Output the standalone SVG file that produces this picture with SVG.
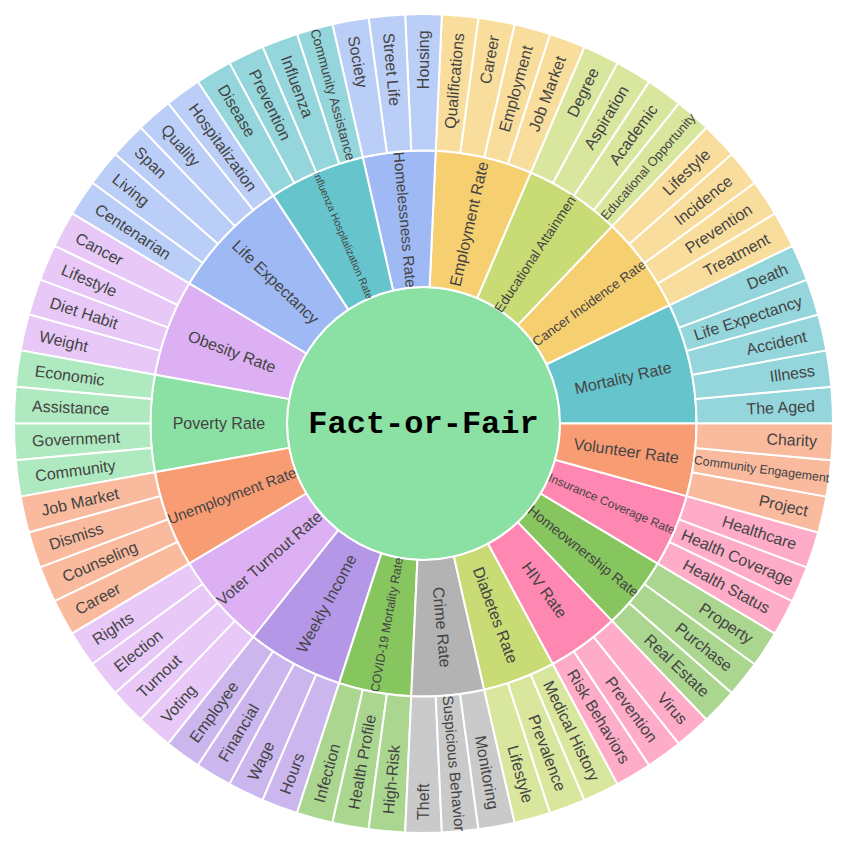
<svg xmlns="http://www.w3.org/2000/svg" width="847" height="847" viewBox="0 0 847 847">
<style>
.w{stroke:#fff;stroke-width:2;stroke-linejoin:round}
.t{font-family:"Liberation Sans",Arial,sans-serif;font-size:16px;fill:#444;text-anchor:middle;dominant-baseline:central}
.root{font-family:"Liberation Mono","Courier New",monospace;font-weight:bold;font-size:32px;fill:#000;text-anchor:middle}
.pA{fill:#66C5CC}.lA{fill:#94D6DB}
.pB{fill:#F6CF71}.lB{fill:#F9DD9C}
.pC{fill:#F89C74}.lC{fill:#FABA9E}
.pD{fill:#DCB0F2}.lD{fill:#E7C8F6}
.pE{fill:#87C55F}.lE{fill:#ABD68F}
.pF{fill:#9EB9F3}.lF{fill:#BBCEF7}
.pG{fill:#FE88B1}.lG{fill:#FEACC8}
.pH{fill:#C9DB74}.lH{fill:#D9E69E}
.pI{fill:#8BE0A4}.lI{fill:#AEE9BF}
.pJ{fill:#B497E7}.lJ{fill:#CBB6EE}
.pK{fill:#B3B3B3}.lK{fill:#CACACA}
</style>
<defs>
<path id="leaf" class="w" d="M273,0 L409.5,0 A409.5,409.5 0 0 0 407.851,-36.707 L271.901,-24.472 A273,273 0 0 1 273,0 Z"/>
<path id="p3" class="w" d="M136.5,0 L273,0 A273,273 0 0 0 263.162,-72.628 L131.581,-36.314 A136.5,136.5 0 0 1 136.5,0 Z"/>
<path id="p4" class="w" d="M136.5,0 L273,0 A273,273 0 0 0 255.592,-95.925 L127.796,-47.963 A136.5,136.5 0 0 1 136.5,0 Z"/>
<path id="p5" class="w" d="M136.5,0 L273,0 A273,273 0 0 0 245.965,-118.450 L122.982,-59.225 A136.5,136.5 0 0 1 136.5,0 Z"/>
</defs>
<rect width="847" height="847" fill="#fff"/>
<g transform="translate(423.5 423.5)">
<g id="root"><circle r="136.5" class="pI w"/><text class="root" y="9">Fact-or-Fair</text></g>

<g id="mortality-rate"><use href="#p5" class="pA"/><text class="t" transform="rotate(-12.857) translate(204.6 0)">Mortality Rate</text></g>
<g id="cancer-incidence-rate"><use href="#p4" class="pB" transform="rotate(-25.714)"/><text class="t" style="font-size:13.41px" transform="rotate(-36) translate(204.7 0)">Cancer Incidence Rate</text></g>
<g id="educational-attainment"><use href="#p4" class="pH" transform="rotate(-46.286)"/><text class="t" style="font-size:13.66px" transform="rotate(-56.571) translate(204.7 0)">Educational Attainment</text></g>
<g id="employment-rate"><use href="#p4" class="pB" transform="rotate(-66.857)"/><text class="t" transform="rotate(-77.143) translate(204.7 0)">Employment Rate</text></g>
<g id="homelessness-rate"><use href="#p3" class="pF" transform="rotate(-87.429)"/><text class="t" style="font-size:15.24px" transform="rotate(-95.143) translate(204.7 0) rotate(180)">Homelessness Rate</text></g>
<g id="influenza-hospitalization-rate"><use href="#p4" class="pA" transform="rotate(-102.857)"/><text class="t" style="font-size:10.39px" transform="rotate(-113.143) translate(204.7 0) rotate(180)">Influenza Hospitalization Rate</text></g>
<g id="life-expectancy"><use href="#p5" class="pF" transform="rotate(-123.429)"/><text class="t" transform="rotate(-136.286) translate(204.6 0) rotate(180)">Life Expectancy</text></g>
<g id="obesity-rate"><use href="#p4" class="pD" transform="rotate(-149.143)"/><text class="t" transform="rotate(-159.429) translate(204.6 0) rotate(180)">Obesity Rate</text></g>
<g id="poverty-rate"><use href="#p4" class="pI" transform="rotate(-169.714)"/><text class="t" transform="rotate(-180) translate(204.6 0) rotate(180)">Poverty Rate</text></g>
<g id="unemployment-rate"><use href="#p4" class="pC" transform="rotate(-190.286)"/><text class="t" style="font-size:14.96px" transform="rotate(-200.571) translate(204.7 0) rotate(180)">Unemployment Rate</text></g>
<g id="voter-turnout-rate"><use href="#p4" class="pD" transform="rotate(-210.857)"/><text class="t" transform="rotate(-221.143) translate(204.7 0) rotate(180)">Voter Turnout Rate</text></g>
<g id="weekly-income"><use href="#p4" class="pJ" transform="rotate(-231.429)"/><text class="t" transform="rotate(-241.714) translate(204.6 0) rotate(180)">Weekly Income</text></g>
<g id="covid-19-mortality-rate"><use href="#p3" class="pE" transform="rotate(-252)"/><text class="t" style="font-size:12.34px" transform="rotate(-259.714) translate(204.7 0) rotate(180)">COVID-19 Mortality Rate</text></g>
<g id="crime-rate"><use href="#p3" class="pK" transform="rotate(-267.429)"/><text class="t" transform="rotate(-275.143) translate(204.5 0)">Crime Rate</text></g>
<g id="diabetes-rate"><use href="#p3" class="pH" transform="rotate(-282.857)"/><text class="t" transform="rotate(-290.571) translate(204.6 0)">Diabetes Rate</text></g>
<g id="hiv-rate"><use href="#p3" class="pG" transform="rotate(-298.286)"/><text class="t" transform="rotate(-306) translate(205.8 0)">HIV Rate</text></g>
<g id="homeownership-rate"><use href="#p3" class="pE" transform="rotate(-313.714)"/><text class="t" style="font-size:14.27px" transform="rotate(-321.429) translate(204.7 0)">Homeownership Rate</text></g>
<g id="insurance-coverage-rate"><use href="#p3" class="pG" transform="rotate(-329.143)"/><text class="t" style="font-size:11.97px" transform="rotate(-336.857) translate(204.7 0)">Insurance Coverage Rate</text></g>
<g id="volunteer-rate"><use href="#p3" class="pC" transform="rotate(-344.571)"/><text class="t" transform="rotate(-352.286) translate(204.6 0)">Volunteer Rate</text></g>

<g id="mortality-the-aged"><use href="#leaf" class="lA"/><text class="t" transform="rotate(-2.571) translate(357.5 0)">The Aged</text></g>
<g id="mortality-illness"><use href="#leaf" class="lA" transform="rotate(-5.143)"/><text class="t" transform="rotate(-7.714) translate(372.1 0)">Illness</text></g>
<g id="mortality-accident"><use href="#leaf" class="lA" transform="rotate(-10.286)"/><text class="t" transform="rotate(-12.857) translate(362.1 0)">Accident</text></g>
<g id="mortality-life-expectancy"><use href="#leaf" class="lA" transform="rotate(-15.429)"/><text class="t" transform="rotate(-18) translate(341.2 0)">Life Expectancy</text></g>
<g id="mortality-death"><use href="#leaf" class="lA" transform="rotate(-20.571)"/><text class="t" transform="rotate(-23.143) translate(373.9 0)">Death</text></g>
<g id="cancer-treatment"><use href="#leaf" class="lB" transform="rotate(-25.714)"/><text class="t" transform="rotate(-28.286) translate(355.5 0)">Treatment</text></g>
<g id="cancer-prevention"><use href="#leaf" class="lB" transform="rotate(-30.857)"/><text class="t" transform="rotate(-33.429) translate(353.6 0)">Prevention</text></g>
<g id="cancer-incidence"><use href="#leaf" class="lB" transform="rotate(-36)"/><text class="t" transform="rotate(-38.571) translate(358 0)">Incidence</text></g>
<g id="cancer-lifestyle"><use href="#leaf" class="lB" transform="rotate(-41.143)"/><text class="t" transform="rotate(-43.714) translate(363.7 0)">Lifestyle</text></g>
<g id="education-educational-opportunity"><use href="#leaf" class="lH" transform="rotate(-46.286)"/><text class="t" style="font-size:12.78px" transform="rotate(-48.857) translate(341.2 0)">Educational Opportunity</text></g>
<g id="education-academic"><use href="#leaf" class="lH" transform="rotate(-51.429)"/><text class="t" transform="rotate(-54) translate(357 0)">Academic</text></g>
<g id="education-aspiration"><use href="#leaf" class="lH" transform="rotate(-56.571)"/><text class="t" transform="rotate(-59.143) translate(356.5 0)">Aspiration</text></g>
<g id="education-degree"><use href="#leaf" class="lH" transform="rotate(-61.714)"/><text class="t" transform="rotate(-64.286) translate(367.5 0)">Degree</text></g>
<g id="employment-job-market"><use href="#leaf" class="lB" transform="rotate(-66.857)"/><text class="t" transform="rotate(-69.429) translate(352.2 0)">Job Market</text></g>
<g id="employment-employment"><use href="#leaf" class="lB" transform="rotate(-72)"/><text class="t" transform="rotate(-74.571) translate(347.3 0)">Employment</text></g>
<g id="employment-career"><use href="#leaf" class="lB" transform="rotate(-77.143)"/><text class="t" transform="rotate(-79.714) translate(369.8 0)">Career</text></g>
<g id="employment-qualifications"><use href="#leaf" class="lB" transform="rotate(-82.286)"/><text class="t" transform="rotate(-84.857) translate(344 0)">Qualifications</text></g>
<g id="homelessness-housing"><use href="#leaf" class="lF" transform="rotate(-87.429)"/><text class="t" transform="rotate(-90) translate(363.7 0)">Housing</text></g>
<g id="homelessness-street-life"><use href="#leaf" class="lF" transform="rotate(-92.571)"/><text class="t" transform="rotate(-95.143) translate(355.5 0) rotate(180)">Street Life</text></g>
<g id="homelessness-society"><use href="#leaf" class="lF" transform="rotate(-97.714)"/><text class="t" transform="rotate(-100.286) translate(367.5 0) rotate(180)">Society</text></g>
<g id="influenza-community-assistance"><use href="#leaf" class="lA" transform="rotate(-102.857)"/><text class="t" style="font-size:13.42px" transform="rotate(-105.429) translate(341.2 0) rotate(180)">Community Assistance</text></g>
<g id="influenza-influenza"><use href="#leaf" class="lA" transform="rotate(-108)"/><text class="t" transform="rotate(-110.571) translate(360 0) rotate(180)">Influenza</text></g>
<g id="influenza-prevention"><use href="#leaf" class="lA" transform="rotate(-113.143)"/><text class="t" transform="rotate(-115.714) translate(353.6 0) rotate(180)">Prevention</text></g>
<g id="influenza-disease"><use href="#leaf" class="lA" transform="rotate(-118.286)"/><text class="t" transform="rotate(-120.857) translate(364.2 0) rotate(180)">Disease</text></g>
<g id="life-hospitalization"><use href="#leaf" class="lF" transform="rotate(-123.429)"/><text class="t" transform="rotate(-126) translate(341.2 0) rotate(180)">Hospitalization</text></g>
<g id="life-quality"><use href="#leaf" class="lF" transform="rotate(-128.571)"/><text class="t" transform="rotate(-131.143) translate(369.2 0) rotate(180)">Quality</text></g>
<g id="life-span"><use href="#leaf" class="lF" transform="rotate(-133.714)"/><text class="t" transform="rotate(-136.286) translate(377.6 0) rotate(180)">Span</text></g>
<g id="life-living"><use href="#leaf" class="lF" transform="rotate(-138.857)"/><text class="t" transform="rotate(-141.429) translate(374.5 0) rotate(180)">Living</text></g>
<g id="life-centenarian"><use href="#leaf" class="lF" transform="rotate(-144)"/><text class="t" transform="rotate(-146.571) translate(348.2 0) rotate(180)">Centenarian</text></g>
<g id="obesity-cancer"><use href="#leaf" class="lD" transform="rotate(-149.143)"/><text class="t" transform="rotate(-151.714) translate(368.1 0) rotate(180)">Cancer</text></g>
<g id="obesity-lifestyle"><use href="#leaf" class="lD" transform="rotate(-154.286)"/><text class="t" transform="rotate(-156.857) translate(363.7 0) rotate(180)">Lifestyle</text></g>
<g id="obesity-diet-habit"><use href="#leaf" class="lD" transform="rotate(-159.429)"/><text class="t" transform="rotate(-162) translate(357 0) rotate(180)">Diet Habit</text></g>
<g id="obesity-weight"><use href="#leaf" class="lD" transform="rotate(-164.571)"/><text class="t" transform="rotate(-167.143) translate(369.2 0) rotate(180)">Weight</text></g>
<g id="poverty-economic"><use href="#leaf" class="lI" transform="rotate(-169.714)"/><text class="t" transform="rotate(-172.286) translate(357 0) rotate(180)">Economic</text></g>
<g id="poverty-assistance"><use href="#leaf" class="lI" transform="rotate(-174.857)"/><text class="t" transform="rotate(-177.429) translate(353.2 0) rotate(180)">Assistance</text></g>
<g id="poverty-government"><use href="#leaf" class="lI" transform="rotate(-180)"/><text class="t" transform="rotate(-182.571) translate(347.8 0) rotate(180)">Government</text></g>
<g id="poverty-community"><use href="#leaf" class="lI" transform="rotate(-185.143)"/><text class="t" transform="rotate(-187.714) translate(351.3 0) rotate(180)">Community</text></g>
<g id="unemployment-job-market"><use href="#leaf" class="lC" transform="rotate(-190.286)"/><text class="t" transform="rotate(-192.857) translate(352.2 0) rotate(180)">Job Market</text></g>
<g id="unemployment-dismiss"><use href="#leaf" class="lC" transform="rotate(-195.429)"/><text class="t" transform="rotate(-198) translate(365.3 0) rotate(180)">Dismiss</text></g>
<g id="unemployment-counseling"><use href="#leaf" class="lC" transform="rotate(-200.571)"/><text class="t" transform="rotate(-203.143) translate(351.8 0) rotate(180)">Counseling</text></g>
<g id="unemployment-career"><use href="#leaf" class="lC" transform="rotate(-205.714)"/><text class="t" transform="rotate(-208.286) translate(369.8 0) rotate(180)">Career</text></g>
<g id="voter-rights"><use href="#leaf" class="lD" transform="rotate(-210.857)"/><text class="t" transform="rotate(-213.429) translate(372.1 0) rotate(180)">Rights</text></g>
<g id="voter-election"><use href="#leaf" class="lD" transform="rotate(-216)"/><text class="t" transform="rotate(-218.571) translate(364.7 0) rotate(180)">Election</text></g>
<g id="voter-turnout"><use href="#leaf" class="lD" transform="rotate(-221.143)"/><text class="t" transform="rotate(-223.714) translate(365.8 0) rotate(180)">Turnout</text></g>
<g id="voter-voting"><use href="#leaf" class="lD" transform="rotate(-226.286)"/><text class="t" transform="rotate(-228.857) translate(372.1 0) rotate(180)">Voting</text></g>
<g id="weekly-employee"><use href="#leaf" class="lJ" transform="rotate(-231.429)"/><text class="t" transform="rotate(-234) translate(356.5 0) rotate(180)">Employee</text></g>
<g id="weekly-financial"><use href="#leaf" class="lJ" transform="rotate(-236.571)"/><text class="t" transform="rotate(-239.143) translate(360.5 0) rotate(180)">Financial</text></g>
<g id="weekly-wage"><use href="#leaf" class="lJ" transform="rotate(-241.714)"/><text class="t" transform="rotate(-244.286) translate(374.5 0) rotate(180)">Wage</text></g>
<g id="weekly-hours"><use href="#leaf" class="lJ" transform="rotate(-246.857)"/><text class="t" transform="rotate(-249.429) translate(373.9 0) rotate(180)">Hours</text></g>
<g id="covid-infection"><use href="#leaf" class="lE" transform="rotate(-252)"/><text class="t" transform="rotate(-254.571) translate(362.6 0) rotate(180)">Infection</text></g>
<g id="covid-health-profile"><use href="#leaf" class="lE" transform="rotate(-257.143)"/><text class="t" transform="rotate(-259.714) translate(344 0) rotate(180)">Health Profile</text></g>
<g id="covid-high-risk"><use href="#leaf" class="lE" transform="rotate(-262.286)"/><text class="t" transform="rotate(-264.857) translate(357.5 0) rotate(180)">High-Risk</text></g>
<g id="crime-theft"><use href="#leaf" class="lK" transform="rotate(-267.429)"/><text class="t" transform="rotate(-270) translate(378.3 0) rotate(180)">Theft</text></g>
<g id="crime-suspicious-behavior"><use href="#leaf" class="lK" transform="rotate(-272.571)"/><text class="t" style="font-size:15.06px" transform="rotate(-275.143) translate(341.2 0)">Suspicious Behavior</text></g>
<g id="crime-monitoring"><use href="#leaf" class="lK" transform="rotate(-277.714)"/><text class="t" transform="rotate(-280.286) translate(354.6 0)">Monitoring</text></g>
<g id="diabetes-lifestyle"><use href="#leaf" class="lH" transform="rotate(-282.857)"/><text class="t" transform="rotate(-285.429) translate(363.7 0)">Lifestyle</text></g>
<g id="diabetes-prevalence"><use href="#leaf" class="lH" transform="rotate(-288)"/><text class="t" transform="rotate(-290.571) translate(351.8 0)">Prevalence</text></g>
<g id="diabetes-medical-history"><use href="#leaf" class="lH" transform="rotate(-293.143)"/><text class="t" transform="rotate(-295.714) translate(341.2 0)">Medical History</text></g>
<g id="hiv-risk-behaviors"><use href="#leaf" class="lG" transform="rotate(-298.286)"/><text class="t" transform="rotate(-300.857) translate(341.2 0)">Risk Behaviors</text></g>
<g id="hiv-prevention"><use href="#leaf" class="lG" transform="rotate(-303.429)"/><text class="t" transform="rotate(-306) translate(353.6 0)">Prevention</text></g>
<g id="hiv-virus"><use href="#leaf" class="lG" transform="rotate(-308.571)"/><text class="t" transform="rotate(-311.143) translate(378.3 0)">Virus</text></g>
<g id="homeownership-real-estate"><use href="#leaf" class="lE" transform="rotate(-313.714)"/><text class="t" transform="rotate(-316.286) translate(350.4 0)">Real Estate</text></g>
<g id="homeownership-purchase"><use href="#leaf" class="lE" transform="rotate(-318.857)"/><text class="t" transform="rotate(-321.429) translate(358.5 0)">Purchase</text></g>
<g id="homeownership-property"><use href="#leaf" class="lE" transform="rotate(-324)"/><text class="t" transform="rotate(-326.571) translate(362.6 0)">Property</text></g>
<g id="insurance-health-status"><use href="#leaf" class="lG" transform="rotate(-329.143)"/><text class="t" transform="rotate(-331.714) translate(344 0)">Health Status</text></g>
<g id="insurance-health-coverage"><use href="#leaf" class="lG" transform="rotate(-334.286)"/><text class="t" transform="rotate(-336.857) translate(341.2 0)">Health Coverage</text></g>
<g id="insurance-healthcare"><use href="#leaf" class="lG" transform="rotate(-339.429)"/><text class="t" transform="rotate(-342) translate(353.2 0)">Healthcare</text></g>
<g id="volunteer-project"><use href="#leaf" class="lC" transform="rotate(-344.571)"/><text class="t" transform="rotate(-347.143) translate(369.2 0)">Project</text></g>
<g id="volunteer-community-engagement"><use href="#leaf" class="lC" transform="rotate(-349.714)"/><text class="t" style="font-size:12.4px" transform="rotate(-352.286) translate(341.2 0)">Community Engagement</text></g>
<g id="volunteer-charity"><use href="#leaf" class="lC" transform="rotate(-354.857)"/><text class="t" transform="rotate(-357.429) translate(368.6 0)">Charity</text></g>
</g>
</svg>
